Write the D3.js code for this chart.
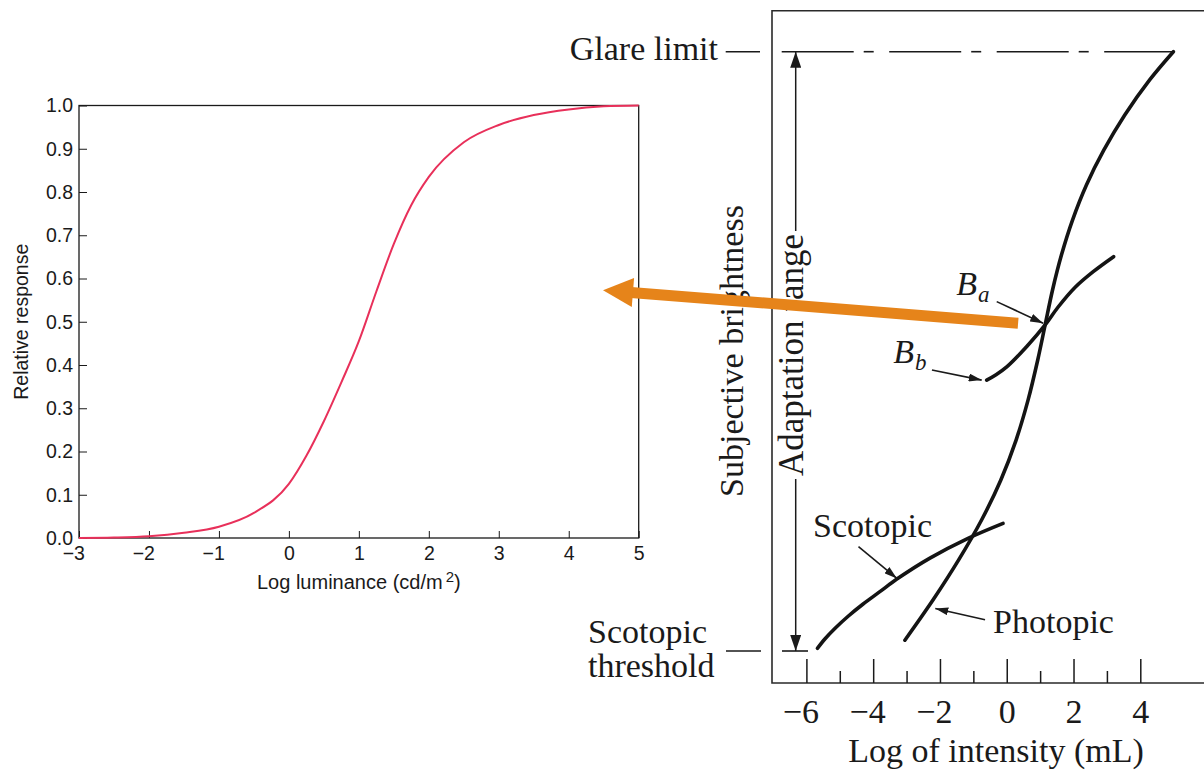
<!DOCTYPE html>
<html>
<head>
<meta charset="utf-8">
<script src="https://cdn.jsdelivr.net/npm/d3@7"></script>
<style>
  html, body { margin: 0; padding: 0; background: #fff; }
  svg { display: block; }
</style>
</head>
<body>
<svg id="fig" width="1204" height="770"></svg>
<script>
// ---------- Left panel: cone response vs. log luminance ----------
const luminanceLog = [-3, -2.5, -2, -1.5, -1, -0.5, 0, 0.25, 0.5, 0.75, 1, 1.25, 1.5, 1.75, 2, 2.5, 3, 3.5, 4, 4.5, 5];
const relativeResponse = [0.0, 0.001, 0.004, 0.012, 0.026, 0.058, 0.125, 0.19, 0.27, 0.36, 0.455, 0.57, 0.68, 0.77, 0.835, 0.915, 0.955, 0.978, 0.991, 0.998, 1.0];
const luminanceTicks = [-3, -2, -1, 0, 1, 2, 3, 4, 5];
const responseTicks = [0, 0.1, 0.2, 0.3, 0.4, 0.5, 0.6, 0.7, 0.8, 0.9, 1.0];

// ---------- Right panel: subjective brightness vs. log intensity ----------
// brightness is normalised: 0 = scotopic threshold, 1 = glare limit
const photopicLogI = [-3.05, -2.21, -1.44, -0.75, -0.18, 0.28, 0.64, 0.93, 1.15, 1.37, 1.64, 1.97, 2.39, 2.91, 3.53, 4.28, 4.99];
const photopicBright = [0.018, 0.085, 0.152, 0.219, 0.285, 0.352, 0.419, 0.486, 0.544, 0.602, 0.661, 0.719, 0.778, 0.836, 0.894, 0.953, 1.0];
const scotopicLogI = [-5.67, -5.44, -5.14, -4.75, -4.31, -3.80, -3.29, -2.30, -1.16, -0.11];
const scotopicBright = [0.0045, 0.0205, 0.038, 0.058, 0.078, 0.099, 0.120, 0.155, 0.188, 0.213];
const adaptedLogI = [-0.60, -0.32, 0.0, 0.60, 1.15, 1.54, 2.05, 2.59, 3.20];
const adaptedBright = [0.452, 0.461, 0.474, 0.508, 0.544, 0.574, 0.607, 0.633, 0.658];
const intensityTicks = [-6, -5, -4, -3, -2, -1, 0, 1, 2, 3, 4];

const SANS = "'Liberation Sans', Arial, Helvetica, sans-serif";
const SERIF = "'Liberation Serif', 'Times New Roman', Times, serif";
const INK = "#1a1a1a";

const svg = d3.select("#fig");
const defs = svg.append("defs");
function arrowMarker(id, len, wid) {
  defs.append("marker")
    .attr("id", id)
    .attr("viewBox", `0 0 ${len} ${wid}`)
    .attr("refX", len).attr("refY", wid / 2)
    .attr("markerWidth", len).attr("markerHeight", wid)
    .attr("markerUnits", "userSpaceOnUse")
    .attr("orient", "auto")
    .append("path")
    .attr("d", `M0,0 L${len},${wid / 2} L0,${wid} Z`)
    .attr("fill", INK);
}
arrowMarker("headSmall", 13, 8);
arrowMarker("headLarge", 16, 11);

// ================= left panel =================
const L = { left: 79, right: 638.7, top: 105.5, bottom: 538 };
const xL = d3.scaleLinear().domain([-3, 5]).range([L.left, L.right]);
const yL = d3.scaleLinear().domain([0, 1]).range([L.bottom, L.top]);

const gxL = svg.append("g")
  .attr("transform", `translate(0,${L.bottom})`)
  .call(d3.axisBottom(xL).tickValues(luminanceTicks).tickSize(-7).tickSizeOuter(0).tickPadding(8.5)
    .tickFormat(d => d < 0 ? "\u2212" + (-d) : String(d)));
gxL.attr("font-family", SANS).attr("font-size", 19.5).attr("color", INK);
gxL.select(".domain").remove();
gxL.selectAll("text").attr("text-anchor", "end").attr("dx", "0.278em");

const gyL = svg.append("g")
  .attr("transform", `translate(${L.left},0)`)
  .call(d3.axisLeft(yL).tickValues(responseTicks).tickSize(-8).tickSizeOuter(0).tickPadding(6)
    .tickFormat(d3.format(".1f")));
gyL.attr("font-family", SANS).attr("font-size", 19.5).attr("color", INK);
gyL.select(".domain").remove();

svg.append("rect")
  .attr("x", L.left).attr("y", L.top)
  .attr("width", L.right - L.left).attr("height", L.bottom - L.top)
  .attr("fill", "none").attr("stroke", INK).attr("stroke-width", 1.3);

const responseLine = d3.line()
  .x((d, i) => xL(luminanceLog[i]))
  .y(d => yL(d))
  .curve(d3.curveMonotoneX);
svg.append("path")
  .attr("d", responseLine(relativeResponse))
  .attr("fill", "none").attr("stroke", "#e8305a").attr("stroke-width", 2);

svg.append("text")
  .attr("transform", `translate(28,${(L.top + L.bottom) / 2}) rotate(-90)`)
  .attr("text-anchor", "middle")
  .attr("font-family", SANS).attr("font-size", 19.5).attr("fill", INK)
  .text("Relative response");

const xTitleL = svg.append("text")
  .attr("x", (L.left + L.right) / 2).attr("y", 589)
  .attr("text-anchor", "middle")
  .attr("font-family", SANS).attr("font-size", 20).attr("fill", INK);
xTitleL.append("tspan").text("Log luminance (cd/m");
xTitleL.append("tspan").attr("font-size", 15).attr("dy", -7).attr("dx", 3).text("2");
xTitleL.append("tspan").attr("dy", 7).text(")");

// ================= right panel =================
const R = { left: 772, top: 10.7, bottom: 683, right: 1210 };
const xR = d3.scaleLinear().domain([-6, 4]).range([806.4, 1140.3]);
const yR = d3.scaleLinear().domain([0, 1]).range([651, 51.7]);

svg.append("path")
  .attr("d", `M${R.right},${R.top} L${R.left},${R.top} L${R.left},${R.bottom} L${R.right},${R.bottom}`)
  .attr("fill", "none").attr("stroke", "#2a2a2a").attr("stroke-width", 1.6);

const gxR = svg.append("g")
  .attr("transform", `translate(0,${R.bottom})`)
  .call(d3.axisBottom(xR).tickValues(intensityTicks).tickSize(-24).tickSizeOuter(0).tickPadding(16)
    .tickFormat(d => d % 2 !== 0 ? "" : (d < 0 ? "\u2212" + (-d) : String(d))));
gxR.attr("font-family", SERIF).attr("font-size", 34).attr("color", INK);
gxR.select(".domain").remove();
gxR.selectAll(".tick line")
  .attr("stroke-width", 1.5)
  .attr("y2", d => d % 2 !== 0 ? -12 : -24);
gxR.selectAll(".tick text").attr("dx", d => d < 0 ? -6 : 0);

svg.append("text")
  .attr("x", 996).attr("y", 762)
  .attr("text-anchor", "middle")
  .attr("font-family", SERIF).attr("font-size", 34).attr("fill", INK)
  .text("Log of intensity (mL)");

svg.append("text")
  .attr("transform", `translate(743,351) rotate(-90)`)
  .attr("text-anchor", "middle")
  .attr("font-family", SERIF).attr("font-size", 34).attr("fill", INK)
  .text("Subjective brightness");

// glare limit (long-short dashed level line) and scotopic threshold
const glareY = yR(1), thresholdY = yR(0);
const dashPattern = [72, 10, 10, 15.5];   // dash, gap, dash, gap
const glareStart = 781.7, glareEnd = xR(photopicLogI[photopicLogI.length - 1]);
const glareDashes = [];
for (let pos = glareStart, k = 0; pos < glareEnd; k++) {
  const len = dashPattern[k % dashPattern.length];
  if (k % 2 === 0) glareDashes.push([pos, Math.min(pos + len, glareEnd)]);
  pos += len;
}
svg.append("g").selectAll("line").data(glareDashes).join("line")
  .attr("x1", d => d[0]).attr("x2", d => d[1])
  .attr("y1", glareY).attr("y2", glareY)
  .attr("stroke", INK).attr("stroke-width", 1.6);
svg.append("line")
  .attr("x1", 725.7).attr("x2", 760).attr("y1", glareY).attr("y2", glareY)
  .attr("stroke", INK).attr("stroke-width", 1.6);
svg.append("line")
  .attr("x1", 782).attr("x2", 808).attr("y1", thresholdY).attr("y2", thresholdY)
  .attr("stroke", INK).attr("stroke-width", 1.6);
svg.append("line")
  .attr("x1", 726).attr("x2", 761).attr("y1", thresholdY).attr("y2", thresholdY)
  .attr("stroke", INK).attr("stroke-width", 1.6);

svg.append("text")
  .attr("x", 718).attr("y", 60)
  .attr("text-anchor", "end")
  .attr("font-family", SERIF).attr("font-size", 34).attr("fill", INK)
  .text("Glare limit");
const thrLabel = svg.append("text")
  .attr("font-family", SERIF).attr("font-size", 34).attr("fill", INK);
thrLabel.append("tspan").attr("x", 588).attr("y", 643).text("Scotopic");
thrLabel.append("tspan").attr("x", 588).attr("y", 677).text("threshold");

// adaptation range: double arrow with the label breaking the line
const adaptX = 795.7;
const adaptLabel = svg.append("text")
  .attr("transform", `translate(803,355) rotate(-90)`)
  .attr("text-anchor", "middle")
  .attr("font-family", SERIF).attr("font-size", 35).attr("fill", INK)
  .text("Adaptation range");
const ab = adaptLabel.node().getBBox();
const labelTop = 355 - ab.width / 2 - 3, labelBottom = 355 + ab.width / 2 + 3;
svg.append("line")
  .attr("x1", adaptX).attr("x2", adaptX).attr("y1", labelTop).attr("y2", glareY)
  .attr("stroke", INK).attr("stroke-width", 1.5).attr("marker-end", "url(#headLarge)");
svg.append("line")
  .attr("x1", adaptX).attr("x2", adaptX).attr("y1", labelBottom).attr("y2", thresholdY)
  .attr("stroke", INK).attr("stroke-width", 1.5).attr("marker-end", "url(#headLarge)");

// brightness curves
const curveLine = d3.line().curve(d3.curveCatmullRom.alpha(0.5));
function drawCurve(xs, ys) {
  svg.append("path")
    .attr("d", curveLine(xs.map((v, i) => [xR(v), yR(ys[i])])))
    .attr("fill", "none").attr("stroke", "#141414").attr("stroke-width", 3.6)
    .attr("stroke-linecap", "round");
}
drawCurve(photopicLogI, photopicBright);
drawCurve(scotopicLogI, scotopicBright);
drawCurve(adaptedLogI, adaptedBright);

// curve labels and pointer arrows (positions in panel units)
const pointers = [
  { from: [-0.30, 0.583], to: [1.09, 0.547] },
  { from: [-2.24, 0.469], to: [-0.75, 0.452] },
  { from: [-4.44, 0.174], to: [-3.29, 0.121] },
  { from: [-0.65, 0.052], to: [-2.14, 0.071] }
];
pointers.forEach(p => {
  svg.append("line")
    .attr("x1", xR(p.from[0])).attr("y1", yR(p.from[1]))
    .attr("x2", xR(p.to[0])).attr("y2", yR(p.to[1]))
    .attr("stroke", INK).attr("stroke-width", 1.6)
    .attr("marker-end", "url(#headSmall)");
});

function subLabel(x, y, main, sub) {
  const t = svg.append("text")
    .attr("x", xR(x)).attr("y", yR(y))
    .attr("font-family", SERIF).attr("font-style", "italic").attr("fill", INK)
    .attr("font-size", 34);
  t.append("tspan").text(main);
  t.append("tspan").attr("font-size", 23).attr("dy", 7).attr("dx", 1).text(sub);
}
subLabel(-1.51, 0.594, "B", "a");
subLabel(-3.40, 0.481, "B", "b");

svg.append("text")
  .attr("x", xR(-5.80)).attr("y", yR(0.190))
  .attr("font-family", SERIF).attr("font-size", 34).attr("fill", INK)
  .text("Scotopic");
svg.append("text")
  .attr("x", xR(-0.41)).attr("y", yR(0.030))
  .attr("font-family", SERIF).attr("font-size", 34).attr("fill", INK)
  .text("Photopic");

// ================= link arrow between the panels =================
const link = { fromLogI: 0.34, fromBright: 0.547, toLogL: 4.49, toResp: 0.573 };
const p0 = [xR(link.fromLogI), yR(link.fromBright)];
const p1 = [xL(link.toLogL), yL(link.toResp)];
const ddx = p1[0] - p0[0], ddy = p1[1] - p0[1], dl = Math.hypot(ddx, ddy);
const ux = ddx / dl, uy = ddy / dl, nx = -uy, ny = ux;
const headLen = 30, headHalf = 14.5;
const base = [p1[0] - ux * headLen, p1[1] - uy * headLen];
const ORANGE = "#e6841a";
svg.append("line")
  .attr("x1", p0[0]).attr("y1", p0[1])
  .attr("x2", base[0] + ux * 2).attr("y2", base[1] + uy * 2)
  .attr("stroke", ORANGE).attr("stroke-width", 11);
svg.append("path")
  .attr("d", `M${p1[0]},${p1[1]} L${base[0] + nx * headHalf},${base[1] + ny * headHalf} L${base[0] - nx * headHalf},${base[1] - ny * headHalf} Z`)
  .attr("fill", ORANGE);
</script>
</body>
</html>
